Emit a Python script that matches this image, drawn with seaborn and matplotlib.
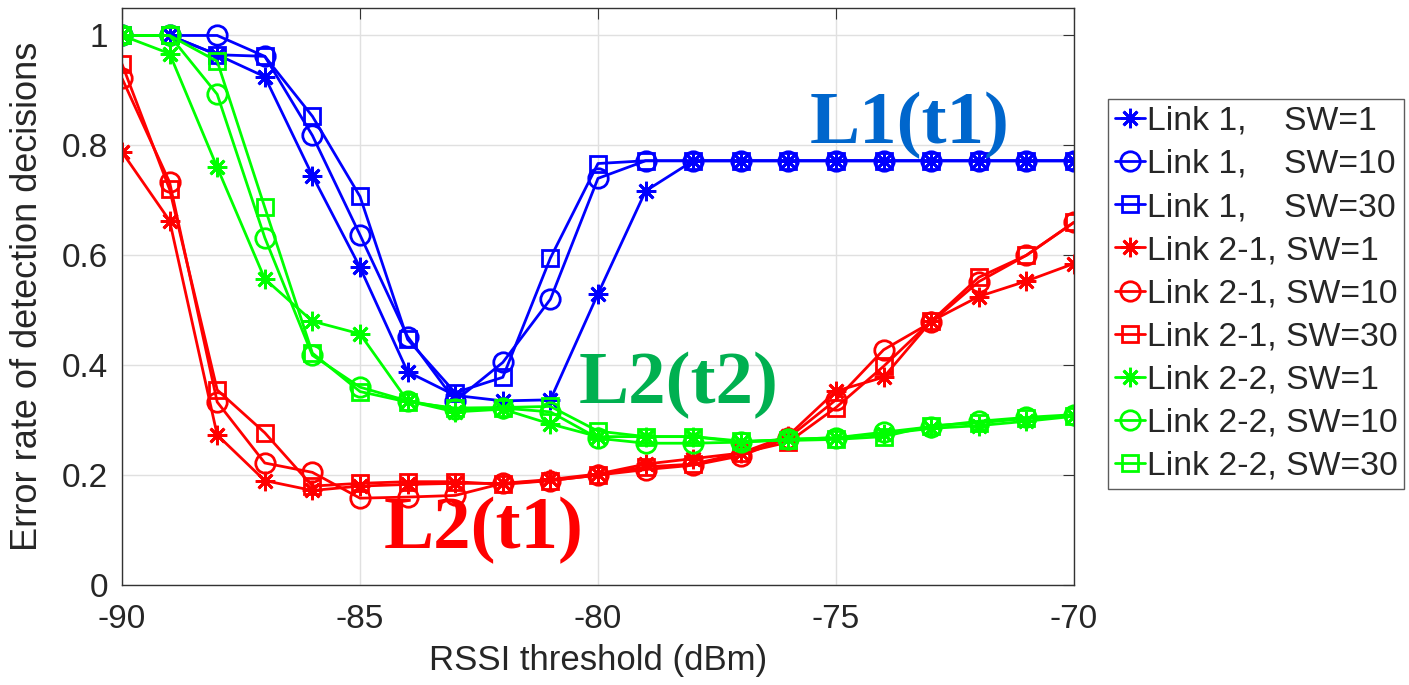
import numpy as np
import pandas as pd
import seaborn as sns
import matplotlib.pyplot as plt

rssi = list(range(-90, -69))

link1_sw1 = [1.0, 1.0, 0.965, 0.925, 0.745, 0.578, 0.388, 0.345, 0.335, 0.337, 0.53, 0.717,
             0.772, 0.772, 0.772, 0.772, 0.772, 0.772, 0.772, 0.772, 0.772]
link1_sw10 = [1.0, 1.0, 1.0, 0.962, 0.818, 0.637, 0.452, 0.335, 0.405, 0.52, 0.74, 0.772,
              0.772, 0.772, 0.772, 0.772, 0.772, 0.772, 0.772, 0.772, 0.772]
link1_sw30 = [1.0, 1.0, 0.965, 0.962, 0.853, 0.707, 0.447, 0.35, 0.378, 0.595, 0.767, 0.772,
              0.772, 0.772, 0.772, 0.772, 0.772, 0.772, 0.772, 0.772, 0.772]
link21_sw1 = [0.788, 0.663, 0.273, 0.19, 0.172, 0.18, 0.183, 0.185, 0.185, 0.192, 0.202, 0.22,
              0.23, 0.24, 0.272, 0.353, 0.378, 0.48, 0.525, 0.553, 0.585]
link21_sw10 = [0.922, 0.733, 0.333, 0.222, 0.205, 0.158, 0.16, 0.163, 0.185, 0.19, 0.2, 0.21,
               0.218, 0.235, 0.268, 0.337, 0.428, 0.478, 0.552, 0.6, 0.66]
link21_sw30 = [0.948, 0.72, 0.355, 0.277, 0.18, 0.185, 0.188, 0.188, 0.183, 0.19, 0.2, 0.215,
               0.22, 0.24, 0.26, 0.323, 0.398, 0.48, 0.56, 0.6, 0.66]
link22_sw1 = [1.0, 0.967, 0.76, 0.557, 0.48, 0.457, 0.335, 0.315, 0.32, 0.293, 0.27, 0.27,
              0.27, 0.26, 0.265, 0.268, 0.275, 0.285, 0.29, 0.298, 0.307]
link22_sw10 = [1.0, 1.0, 0.893, 0.632, 0.418, 0.36, 0.335, 0.32, 0.322, 0.315, 0.267, 0.258,
               0.258, 0.26, 0.265, 0.268, 0.278, 0.288, 0.298, 0.305, 0.31]
link22_sw30 = [1.0, 1.0, 0.953, 0.687, 0.422, 0.352, 0.333, 0.322, 0.323, 0.325, 0.28, 0.27,
               0.27, 0.262, 0.263, 0.265, 0.27, 0.29, 0.295, 0.303, 0.308]

labels = ["Link 1,    SW=1", "Link 1,    SW=10", "Link 1,    SW=30",
          "Link 2-1, SW=1", "Link 2-1, SW=10", "Link 2-1, SW=30",
          "Link 2-2, SW=1", "Link 2-2, SW=10", "Link 2-2, SW=30"]
series = [link1_sw1, link1_sw10, link1_sw30,
          link21_sw1, link21_sw10, link21_sw30,
          link22_sw1, link22_sw10, link22_sw30]
colors = ["#0000ff"] * 3 + ["#ff0000"] * 3 + ["#00ff00"] * 3
markers = [(8, 2, 0), "o", "s"] * 3
msizes = [14, 14, 11] * 3

sns.set_style("white")
plt.rcParams['font.family'] = ['Liberation Sans', 'DejaVu Sans']
plt.rcParams['axes.unicode_minus'] = False

fig = plt.figure(figsize=(14.09, 6.85), dpi=100)
ax = fig.add_axes([122 / 1409, 1 - 585 / 685, (1074 - 122) / 1409, (585 - 8) / 685])

for lab, vals, c, m, ms in zip(labels, series, colors, markers, msizes):
    df = pd.DataFrame({"rssi": rssi, "err": vals})
    sns.lineplot(data=df, x="rssi", y="err", ax=ax, color=c, marker=m, markersize=ms,
                 mfc="none", mec=c, mew=2, lw=2, label=lab, legend=False)

ax.set_xlim(-90, -70)
ax.set_ylim(0, 1.05)
ax.set_xticks([-90, -85, -80, -75, -70])
ax.set_yticks([0, 0.2, 0.4, 0.6, 0.8, 1])
ax.set_yticklabels(["0", "0.2", "0.4", "0.6", "0.8", "1"])
ax.grid(True, color="#e0e0e0", lw=1)
ax.tick_params(direction="in", length=8, labelsize=24, top=True, right=True, color="#333333")
ax.tick_params(axis="x", pad=14)
ax.tick_params(axis="y", pad=10)
for s in ax.spines.values():
    s.set_color("#333333")
    s.set_linewidth(1)
ax.set_xlabel("RSSI threshold (dBm)", fontsize=25, labelpad=6)
ax.set_ylabel("Error rate of detection decisions", fontsize=26, labelpad=12)

# big labels inside the plot
ax.text(-75.55, 0.836, "L1(t1)", color="#0066cc", fontsize=54, fontweight="bold",
        family="Liberation Serif", ha="left", va="center")
ax.text(-80.4, 0.364, "L2(t2)", color="#00b050", fontsize=54, fontweight="bold",
        family="Liberation Serif", ha="left", va="center")
ax.text(-84.5, 0.1, "L2(t1)", color="#ff0000", fontsize=54, fontweight="bold",
        family="Liberation Serif", ha="left", va="center")

handles, labs = ax.get_legend_handles_labels()
leg = fig.legend(handles, labs, loc="upper left", bbox_to_anchor=(1108 / 1409, 1 - 99 / 685),
                 fontsize=24.3, frameon=True, fancybox=False, edgecolor="#333333",
                 handlelength=0.9, handletextpad=0.05, labelspacing=0.36, borderpad=0.2,
                 borderaxespad=0)
leg.get_frame().set_linewidth(1)

fig.savefig("out.png", dpi=100)
